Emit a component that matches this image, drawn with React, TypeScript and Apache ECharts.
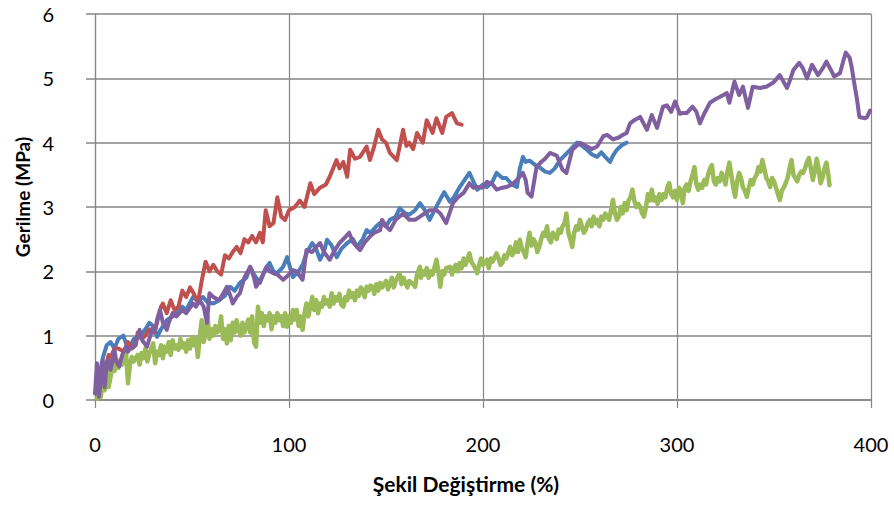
import React, { useEffect, useRef } from "react";
import * as echarts from "echarts";

const xTicks = [0, 100, 200, 300, 400];
const yTicks = [0, 1, 2, 3, 4, 5, 6];
const xTitle = "Şekil Değiştirme (%)";
const yTitle = "Gerilme (MPa)";

const redData: [number, number][] = [
  [1, 0.05], [2, 0.15], [3, 0.3], [5, 0.45], [7, 0.7], [8, 0.65], [10, 0.8], [12, 0.8], [15, 0.75], [17, 0.9], [19, 0.8],
  [21, 0.85], [22, 1.05], [24, 0.95], [26, 1.0], [28, 1.1], [30, 1.05], [32, 1.2], [34, 1.45], [35, 1.5], [37, 1.35],
  [39, 1.55], [41, 1.4], [43, 1.45], [45, 1.7], [47, 1.6], [49, 1.75], [51, 1.65], [53, 1.5], [55, 1.85], [57, 2.15],
  [59, 2.0], [61, 2.1], [63, 2.0], [65, 1.95], [67, 2.25], [69, 2.2], [71, 2.3], [73, 2.38], [75, 2.28], [77, 2.5],
  [79, 2.45], [81, 2.55], [83, 2.45], [85, 2.6], [86.5, 2.45], [88, 2.95], [90, 2.7], [92, 2.75], [94, 3.15], [96, 2.85],
  [98, 2.8], [100, 2.95], [103, 3.0], [105.6, 3.1], [108, 3.0], [111, 3.37], [113, 3.2], [116, 3.3], [119, 3.35],
  [121, 3.47], [124.5, 3.73], [126, 3.6], [128, 3.7], [130, 3.47], [131.5, 3.89], [134, 3.75], [136.6, 3.78],
  [140, 3.94], [141.7, 3.73], [144, 3.95], [146, 4.2], [148, 4.05], [150, 4.0], [152, 3.84], [155.6, 3.73],
  [158.8, 4.2], [160.5, 3.95], [162, 4.0], [164, 3.9], [166, 4.15], [169, 4.0], [171, 4.35], [174, 4.15],
  [176, 4.38], [179, 4.15], [181, 4.4], [184, 4.46], [186.6, 4.3], [189, 4.28],
];

const blueData: [number, number][] = [
  [1, 0.1], [2, 0.35], [3, 0.5], [4, 0.65], [6, 0.85], [8, 0.9], [10, 0.8], [12, 0.95], [14.6, 1.0], [16, 0.88],
  [18, 0.83], [20, 0.95], [23, 0.98], [26, 1.1], [28, 1.2], [30, 1.15], [32, 0.98], [34, 1.1], [37, 1.24], [40, 1.3],
  [42, 1.35], [45, 1.45], [47, 1.4], [50.5, 1.6], [53, 1.55], [55.7, 1.6], [58, 1.52], [61, 1.5], [64, 1.55],
  [67, 1.62], [69.6, 1.76], [72, 1.7], [74.7, 1.82], [78, 1.9], [80, 2.07], [82, 1.95], [85, 1.82], [88, 2.05],
  [90, 2.13], [92, 2.0], [93.8, 1.97], [97, 2.07], [99, 2.22], [102, 1.91], [105, 2.0], [107, 2.1], [109, 2.28],
  [112, 2.44], [114, 2.35], [116, 2.18], [118, 2.3], [119.6, 2.49], [122, 2.4], [124.6, 2.22], [127, 2.35],
  [130, 2.44], [133, 2.5], [135, 2.38], [138, 2.5], [140, 2.64], [142, 2.6], [145, 2.7], [147, 2.75], [150, 2.7],
  [152, 2.8], [155, 2.85], [157, 2.98], [160, 2.9], [162, 2.88], [165, 2.95], [167.5, 3.06], [170, 2.95],
  [172.5, 2.8], [175, 2.95], [177.8, 3.11], [180, 3.23], [183, 3.08], [185, 3.15], [188, 3.31], [190, 3.4],
  [193, 3.53], [195, 3.4], [197, 3.27], [200, 3.35], [202, 3.31], [205, 3.4], [207, 3.53], [210, 3.45],
  [212, 3.45], [215, 3.35], [217.5, 3.31], [219, 3.6], [220.6, 3.78], [222, 3.7], [224, 3.72], [227, 3.65],
  [229, 3.62], [232, 3.55], [234.5, 3.53], [237, 3.6], [239.7, 3.73], [242, 3.8], [245, 3.89], [248.5, 4.0],
  [251, 3.95], [253.6, 3.89], [256, 3.82], [258.8, 3.78], [261, 3.85], [263, 3.78], [265.5, 3.7], [267, 3.8],
  [269, 3.89], [272, 3.97], [274, 4.0],
];

const purpleData: [number, number][] = [
  [0, 0.1], [1, 0.57], [2, 0.05], [3, 0.3], [4, 0.62], [5, 0.2], [6, 0.55], [7, 0.62], [8, 0.47], [9, 0.6],
  [10, 0.78], [11, 0.6], [12.5, 0.52], [14, 0.7], [16, 0.83], [17, 0.75], [18, 0.8], [20, 0.83], [21, 0.9],
  [23, 1.09], [24, 0.95], [25, 0.9], [26.8, 0.83], [28, 0.95], [30, 1.14], [31, 1.05], [32, 1.25], [33.5, 1.4],
  [35, 1.2], [37, 1.09], [38, 1.2], [40, 1.35], [42, 1.3], [45, 1.4], [47, 1.35], [50.5, 1.5], [52, 1.45],
  [54, 1.55], [56, 1.45], [57.7, 1.2], [59, 1.66], [61, 1.6], [64, 1.55], [66, 1.65], [68, 1.76], [70, 1.6],
  [71, 1.5], [73, 1.6], [74.7, 1.66], [77, 1.9], [80, 2.07], [82, 1.9], [83, 1.76], [85, 1.85], [88.5, 2.07],
  [90, 2.0], [92, 1.97], [94, 1.95], [97, 1.87], [100, 1.95], [102, 2.02], [104, 2.0], [105, 1.95], [107, 1.87],
  [109, 2.33], [112, 2.3], [114, 2.38], [116, 2.44], [118, 2.3], [121, 2.18], [123, 2.3], [126, 2.44],
  [128, 2.5], [131, 2.6], [133, 2.45], [136.6, 2.33], [139, 2.45], [141.7, 2.54], [144, 2.6], [147, 2.64],
  [148, 2.8], [150, 2.7], [152, 2.64], [155, 2.8], [158.8, 2.9], [162, 2.8], [165, 2.8], [167.5, 2.85],
  [170, 2.9], [172.5, 2.95], [176, 2.95], [178, 2.9], [181, 2.75], [184.5, 3.06], [187, 3.15], [190, 3.22],
  [193, 3.37], [195, 3.3], [197, 3.31], [200, 3.3], [202, 3.39], [205, 3.35], [207, 3.27], [210, 3.3],
  [212, 3.31], [215, 3.35], [217.5, 3.42], [220.6, 3.53], [222, 3.42], [223, 3.22], [225, 3.16], [227.6, 3.62],
  [230, 3.7], [232, 3.75], [234.5, 3.84], [238, 3.8], [241, 3.58], [243, 3.53], [246, 3.89], [250, 4.0],
  [253.6, 3.94], [256, 3.9], [258.8, 3.94], [262, 4.1], [264, 4.12], [267, 4.05], [270, 4.08], [272, 4.12],
  [274, 4.15], [275.8, 4.3], [278, 4.35], [281, 4.4], [284.5, 4.2], [287, 4.43], [289.7, 4.23], [292.8, 4.56],
  [294.8, 4.58], [297, 4.48], [299, 4.64], [301.5, 4.45], [303, 4.46], [305, 4.46], [308, 4.56], [310, 4.48],
  [311.8, 4.3], [314, 4.45], [317, 4.62], [320, 4.68], [322, 4.71], [325.7, 4.77], [327, 4.62], [329.6, 4.95],
  [332, 4.74], [334, 4.87], [336.6, 4.54], [339, 4.87], [342.8, 4.85], [346, 4.87], [349.5, 4.93], [351, 4.98],
  [353, 5.05], [356.7, 4.85], [358, 4.95], [360, 5.13], [363, 5.24], [365, 5.15], [367, 5.0], [369.6, 5.21],
  [372.7, 5.05], [375, 5.15], [377, 5.26], [379, 5.15], [381, 5.03], [384, 5.08], [386, 5.3], [387, 5.4],
  [389, 5.32], [390, 5.18], [391.5, 4.9], [392.8, 4.67], [394, 4.4], [396.9, 4.38], [398, 4.4], [399.5, 4.5],
];

const greenData: [number, number][] = [
  [1, 0.02], [2, 0.1], [3, 0.05], [4, 0.3], [5, 0.15], [6, 0.47], [7, 0.2], [8, 0.35], [9, 0.62], [10, 0.45],
  [11, 0.55], [12, 0.5], [13, 0.62], [14, 0.55], [15, 0.7], [16, 0.73], [17, 0.26], [18, 0.55], [19, 0.67],
  [20, 0.6], [22, 0.7], [23, 0.55], [24, 0.73], [25, 0.65], [26, 0.8], [27, 0.6], [28, 0.72], [30, 0.88],
  [31, 0.57], [32, 0.75], [33, 0.7], [34, 0.85], [35, 0.65], [36, 0.83], [37, 0.75], [38, 0.9], [39, 0.7],
  [40, 0.93], [41, 0.8], [42, 0.85], [43, 0.78], [44, 0.95], [45, 0.82], [46, 0.88], [47, 0.75], [48, 0.93],
  [49, 0.8], [50, 0.98], [51, 0.85], [52, 0.95], [53, 0.67], [54, 0.98], [55, 1.24], [56, 0.9], [57, 1.05],
  [58, 1.3], [59, 0.95], [60, 1.1], [61, 1.0], [62, 1.15], [63, 1.05], [64, 1.09], [65, 1.3], [66, 0.95],
  [67, 1.1], [68, 0.88], [69, 1.15], [70, 0.93], [71, 1.2], [72, 1.05], [73, 1.24], [74, 1.1], [75, 1.0],
  [76, 1.2], [77, 1.05], [78, 1.14], [79, 1.25], [80, 1.05], [81, 1.3], [82, 0.9], [83, 0.83], [84, 1.45],
  [85, 1.2], [86, 1.35], [87, 1.15], [88, 1.3], [89, 1.24], [90, 1.35], [91, 1.1], [92, 1.3], [93, 1.2],
  [94, 1.35], [95, 1.24], [96, 1.3], [97, 1.15], [98, 1.35], [99, 1.14], [100, 1.3], [101, 1.2], [102, 1.4],
  [103, 1.25], [104, 1.4], [105, 1.15], [106, 1.3], [107, 1.09], [108, 1.35], [109, 1.5], [110, 1.3],
  [111, 1.45], [112, 1.6], [113, 1.4], [114, 1.55], [115, 1.35], [116, 1.5], [117, 1.45], [118, 1.6],
  [119, 1.5], [120, 1.55], [121, 1.45], [122, 1.66], [123, 1.5], [124, 1.6], [125, 1.55], [126, 1.65],
  [127, 1.48], [128, 1.45], [129, 1.6], [130, 1.55], [131, 1.7], [132, 1.6], [133, 1.66], [134, 1.55],
  [135, 1.7], [136, 1.62], [137, 1.75], [138, 1.71], [139, 1.6], [140, 1.76], [141, 1.7], [142, 1.78],
  [143, 1.76], [144, 1.65], [145, 1.8], [146, 1.7], [147, 1.82], [148, 1.75], [150, 1.85], [151, 1.72],
  [152, 1.8], [153, 1.9], [154, 1.75], [155, 1.85], [157, 1.97], [158, 1.8], [159, 1.9], [160, 1.82],
  [161, 1.75], [162, 1.85], [164, 1.8], [165, 1.76], [166, 1.95], [167.5, 2.07], [168, 1.9], [169, 2.0],
  [170, 1.95], [171, 2.05], [172, 1.9], [173, 2.0], [174, 1.95], [176, 2.18], [177, 2.0], [178, 1.76],
  [179, 2.0], [180, 1.95], [181, 2.05], [183, 2.07], [184, 1.95], [185, 2.05], [186, 2.1], [187, 2.0],
  [188, 2.13], [189, 2.05], [190, 2.2], [191, 2.1], [193, 2.28], [194, 2.15], [195, 2.1], [196, 2.05],
  [197, 1.97], [198, 2.1], [199, 2.2], [200, 2.1], [202, 2.18], [203, 2.05], [204, 2.2], [205, 2.15],
  [207, 2.28], [208, 2.2], [209, 2.1], [210, 2.13], [211, 2.25], [212, 2.2], [214, 2.38], [215, 2.25],
  [216, 2.3], [217, 2.45], [218, 2.3], [219, 2.49], [220, 2.35], [221, 2.3], [222, 2.22], [223, 2.45],
  [224, 2.6], [225, 2.4], [226, 2.5], [227, 2.45], [228, 2.3], [229, 2.38], [230, 2.5], [231, 2.6],
  [232, 2.55], [233, 2.7], [234, 2.5], [235, 2.45], [236, 2.6], [237, 2.55], [238, 2.5], [239, 2.65],
  [240, 2.6], [241, 2.7], [242, 2.75], [243, 2.9], [244, 2.6], [245, 2.5], [246, 2.38], [247, 2.6],
  [248, 2.7], [249, 2.65], [250, 2.8], [251, 2.7], [252, 2.6], [253, 2.65], [254, 2.75], [255, 2.8],
  [256, 2.7], [257, 2.85], [258, 2.75], [259, 2.8], [260, 2.7], [261, 2.85], [262, 2.8], [263, 2.9],
  [264, 2.85], [265, 2.8], [266, 2.95], [267, 3.11], [268, 2.9], [269, 2.8], [270, 2.85], [271, 3.0],
  [272, 2.9], [273, 3.06], [274, 2.95], [275, 3.1], [276, 3.15], [277, 3.27], [278, 3.1], [279, 3.0],
  [280, 3.05], [281, 3.0], [282, 2.9], [283, 2.85], [284, 3.0], [285, 3.2], [286, 3.1], [287, 3.27],
  [288, 3.1], [289, 3.15], [290, 3.05], [291, 3.2], [292, 3.11], [293, 3.2], [294, 3.15], [295, 3.3],
  [296, 3.37], [297, 3.2], [298, 3.15], [299, 3.25], [300, 3.11], [301, 3.3], [302, 3.25], [303, 3.06],
  [304, 3.3], [305, 3.35], [306, 3.25], [307, 3.4], [308, 3.5], [309, 3.62], [310, 3.35], [311, 3.27],
  [312, 3.35], [313, 3.3], [314, 3.42], [315, 3.35], [316, 3.5], [317, 3.6], [318, 3.65], [319, 3.4],
  [320, 3.35], [321, 3.45], [322, 3.4], [323, 3.53], [324, 3.45], [325, 3.35], [326, 3.55], [327, 3.69],
  [328, 3.5], [329, 3.3], [330, 3.16], [331, 3.4], [332, 3.53], [333, 3.45], [334, 3.3], [335, 3.25],
  [336, 3.16], [337, 3.3], [338, 3.42], [339, 3.35], [340, 3.45], [341, 3.5], [342, 3.62], [343, 3.55],
  [344, 3.73], [345, 3.6], [346, 3.45], [347, 3.4], [348, 3.31], [349, 3.45], [350, 3.4], [351, 3.3],
  [352, 3.2], [353, 3.11], [354, 3.25], [355, 3.3], [356, 3.37], [357, 3.45], [358, 3.6], [359, 3.73],
  [360, 3.5], [361, 3.45], [362, 3.4], [363, 3.5], [364, 3.55], [365, 3.53], [366, 3.6], [367, 3.7],
  [368, 3.76], [369, 3.6], [370, 3.42], [371, 3.55], [372, 3.75], [373, 3.6], [374, 3.37], [375, 3.45],
  [376, 3.6], [377, 3.69], [378, 3.5], [378.6, 3.34],
];

const seriesList = [
  { name: "Blue", color: "#4A7EBB", width: 4, data: blueData },
  { name: "Red", color: "#C0504D", width: 4, data: redData },
  { name: "Green", color: "#9BBB59", width: 4.5, data: greenData },
  { name: "Purple", color: "#7F5FA0", width: 4, data: purpleData },
];

export default function App() {
  const ref = useRef<HTMLDivElement>(null);
  useEffect(() => {
    if (!ref.current) return;
    const chart = echarts.init(ref.current, undefined, { renderer: "svg" });
    const font = "Lato, 'Open Sans', sans-serif";
    chart.setOption({
      animation: false,
      backgroundColor: "#ffffff",
      grid: { left: 95, right: 23, top: 14, bottom: 105, containLabel: false },
      xAxis: {
        type: "value",
        min: xTicks[0],
        max: xTicks[xTicks.length - 1],
        interval: 100,
        axisLine: { show: true, lineStyle: { color: "#868686", width: 1.5 } },
        axisTick: { show: true, length: 8, lineStyle: { color: "#868686", width: 1.2 } },
        splitLine: { show: true, lineStyle: { color: "#868686", width: 1.2 } },
        axisLabel: { color: "#000", fontSize: 20, fontFamily: font, margin: 34 },
      },
      yAxis: {
        type: "value",
        min: yTicks[0],
        max: yTicks[yTicks.length - 1],
        interval: 1,
        axisLine: { show: true, lineStyle: { color: "#868686", width: 1.2 } },
        axisTick: { show: true, length: 9, lineStyle: { color: "#868686", width: 1.5 } },
        splitLine: { show: true, lineStyle: { color: "#868686", width: 1.5 } },
        axisLabel: { color: "#000", fontSize: 20, fontFamily: font, margin: 41 },
      },
      graphic: [
        {
          type: "text",
          x: 466,
          y: 483,
          style: {
            text: xTitle,
            fill: "#000",
            font: `bold 21px ${font}`,
            textAlign: "center",
            textVerticalAlign: "middle",
          },
        },
        {
          type: "text",
          x: 22,
          y: 197,
          rotation: Math.PI / 2,
          style: {
            text: yTitle,
            fill: "#000",
            font: `bold 19px ${font}`,
            textAlign: "center",
            textVerticalAlign: "middle",
          },
        },
      ],
      series: seriesList.map((s) => ({
        name: s.name,
        type: "line",
        data: s.data,
        showSymbol: false,
        symbol: "none",
        smooth: false,
        lineStyle: { color: s.color, width: s.width, join: "round", cap: "round" },
        itemStyle: { color: s.color },
      })),
    });
    return () => chart.dispose();
  }, []);
  return <div ref={ref} style={{ width: 894, height: 505, position: "absolute", left: 0, top: 0 }} />;
}
